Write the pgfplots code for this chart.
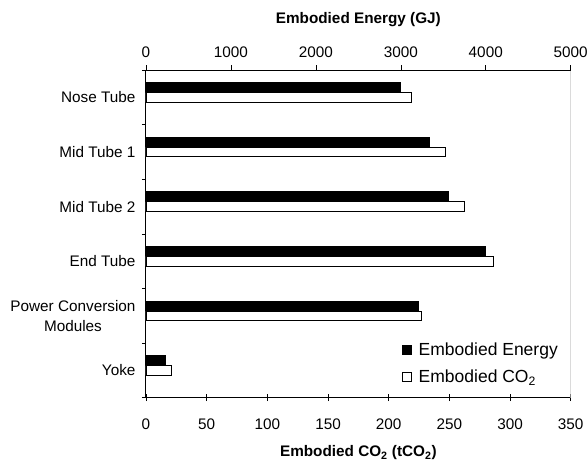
\documentclass[border=0pt]{standalone}
\usepackage{pgfplots}
\pgfplotsset{compat=1.18}
\usepackage{fontspec}
\setmainfont{Liberation Sans}

\newcommand{\tickfont}{\fontsize{15.3}{20}\selectfont}
\newcommand{\legfont}{\fontsize{17.5}{21}\selectfont}

\pgfplotsset{
  common/.style={
    scale only axis,
    width=424.7pt, height=327.7pt,
    at={(146pt,63.3pt)}, anchor=south west,
    ymin=-0.5, ymax=5.5,
    xbar, bar width=9.5pt,
    /pgf/number format/assume math mode=true,
    /pgf/number format/1000 sep={},
    ticklabel style={font=\tickfont},
    tick style={black, line width=0.6pt},
    axis line style={line width=1pt},
  },
}

\begin{document}
\begin{tikzpicture}
\path[use as bounding box] (0,0) rectangle (587pt,461pt);

% bottom axis: embodied CO2 (white bars)
\begin{axis}[common,
  xmin=0, xmax=350,
  axis x line*=bottom, axis y line*=left,
  xtick={0,50,...,350},
  major tick length=7pt, xtick align=center,
  xticklabel style={yshift=-14pt},
  ytick={0,1,2,3,4,5},
  yticklabels={Yoke,{Power Conversion\\Modules},End Tube,Mid Tube 2,Mid Tube 1,Nose Tube},
  yticklabel style={align=center, xshift=0pt},
  major y tick style={draw=none},
  minor ytick={-0.5,0.5,...,5.5},
  minor y tick style={black, line width=0.6pt},
  minor tick length=4pt, ytick align=outside,
  xlabel={\bfseries Embodied CO\textsubscript{2} (tCO\textsubscript{2})},
  xlabel style={font=\tickfont, at={(axis description cs:0.5,0)}, anchor=center, yshift=-55pt},
]
\addplot[fill=white, draw=black, line width=0.8pt, bar shift=0pt] coordinates {
  (21,0) (227,1) (286,2) (262,3) (247,4) (219,5)
};
\draw[gray!45, line width=1.2pt] (rel axis cs:1,0) -- (rel axis cs:1,1);
\end{axis}

% top axis: embodied energy (black bars)
\begin{axis}[common,
  xmin=0, xmax=5000,
  axis x line*=top, axis y line=none,
  xtick={0,1000,...,5000},
  major tick length=5pt, xtick align=outside,
  xticklabel style={yshift=4pt},
  ytick=\empty,
  xlabel={\bfseries Embodied Energy (GJ)},
  xlabel style={font=\tickfont, at={(axis description cs:0.5,1)}, anchor=center, yshift=50pt},
  legend style={draw=none, fill=none, font=\legfont, at={(0.595,0.18)}, anchor=north west,
    row sep=9pt, column sep=5pt},
  legend cell align=left,
  legend image code/.code={\draw[#1, line width=0.8pt] (0pt,-4.5pt) rectangle (9pt,4.5pt);},
]
\addplot[fill=black, draw=black, line width=0.8pt, bar shift=10pt] coordinates {
  (225,0) (3210,1) (4000,2) (3560,3) (3340,4) (3000,5)
};
\addlegendentry{Embodied Energy}
\addlegendimage{fill=white, draw=black}
\addlegendentry{Embodied CO\textsubscript{2}}
\end{axis}
\end{tikzpicture}
\end{document}
